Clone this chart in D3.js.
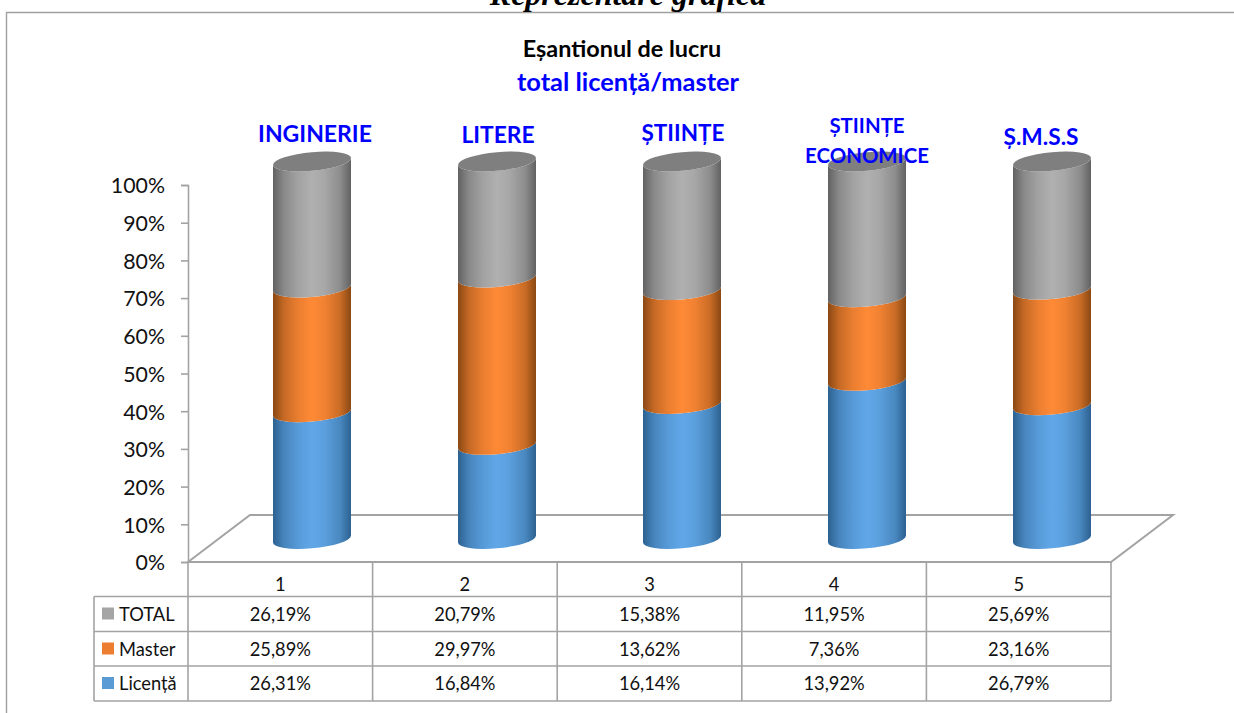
<!DOCTYPE html>
<html><head><meta charset="utf-8">
<script src="https://cdn.jsdelivr.net/npm/d3@7"></script>
<style>html,body{margin:0;padding:0;background:#fff}svg{display:block}text{font-family:Lato,"Noto Sans",sans-serif}</style>
</head><body><svg id="c" width="1234" height="713"></svg>
<script>
const categories=["1","2","3","4","5"];
const licenta=[26.31,16.84,16.14,13.92,26.79];
const master=[25.89,29.97,13.62,7.36,23.16];
const total=[26.19,20.79,15.38,11.95,25.69];
const licentaLabels=["26,31%","16,84%","16,14%","13,92%","26,79%"];
const masterLabels=["25,89%","29,97%","13,62%","7,36%","23,16%"];
const totalLabels=["26,19%","20,79%","15,38%","11,95%","25,69%"];
const seriesNames=["TOTAL","Master","Licență"];
const domains=[["INGINERIE"],["LITERE"],["ȘTIINȚE"],["ȘTIINȚE","ECONOMICE"],["Ș.M.S.S"]];
const yTicks=[0,.1,.2,.3,.4,.5,.6,.7,.8,.9,1];

const svg=d3.select("#c"),defs=svg.append("defs");
const grey="#a3a3a3";
const x=d3.scaleBand().domain(categories).range([188,1111]);
const xc=d3.scaleBand().domain(categories).range([219.5,1144.5]);
const y=d3.scaleLinear().domain([0,1]).range([562,185]);
const yc=d3.scaleLinear().domain([0,1]).range([539,161.5]);
const cols={lic:{dark:"#2c6190",mid:"#61a7e8",flat:"#5b9bd5"},mas:{dark:"#8a4813",mid:"#ff8a36",flat:"#ed7d31"},tot:{dark:"#626262",mid:"#b0b0b0",flat:"#a5a5a5"}};
for(const k in cols){
  const g=defs.append("linearGradient").attr("id","g"+k).attr("x1",0).attr("x2",1).attr("y1",0).attr("y2",0);
  const mix=d3.interpolateRgb(cols[k].dark,cols[k].mid);
  [[0,cols[k].dark],[.14,mix(.5)],[.32,mix(.82)],[.5,cols[k].mid],[.66,mix(.88)],[.86,mix(.55)],[1,cols[k].dark]]
   .forEach(s=>g.append("stop").attr("offset",s[0]).attr("stop-color",s[1]));
}
// frame
svg.append("path").attr("d","M6.5,713V12.5H1234").attr("fill","none").attr("stroke","#a0a0a0").attr("stroke-width",1.4);
svg.append("text").attr("x",628).attr("y",5).attr("text-anchor","middle").style("font-family","'Liberation Serif',serif").style("font-weight","bold").style("font-style","italic").style("font-size","32px").attr("fill","#000").text("Reprezentare grafică");
svg.append("text").attr("x",622).attr("y",57).attr("text-anchor","middle").style("font-weight","bold").style("font-size","23.4px").attr("fill","#000").text("Eșantionul de lucru");
svg.append("text").attr("x",628).attr("y",90.5).attr("text-anchor","middle").style("font-weight","bold").style("font-size","25.4px").attr("fill","#0000ff").text("total licență/master");

// floor
const dx=62,dy=47;
svg.append("path").attr("d",`M${x.range()[0]},${y(0)}L${x.range()[0]+dx},${y(0)-dy}H${x.range()[1]+dx}L${x.range()[1]},${y(0)}Z`).attr("fill","none").attr("stroke",grey).attr("stroke-width",2);
// axis
const ax=svg.append("g").attr("transform","translate(188,0)").call(d3.axisLeft(y).tickValues(yTicks).tickFormat(d3.format(".0%")).tickSize(7).tickPadding(16));
ax.selectAll("path,line").attr("stroke",grey).attr("stroke-width",1.6);
ax.selectAll("text").style("font-size","21.3px").style("font-family","Lato").attr("fill","#111").attr("dy","0.37em");

// cylinders
const rx=39,ry=9.3,skew=-5;
categories.forEach((c,i)=>{
  const sum=licenta[i]+master[i]+total[i];
  const cx=xc(c)+xc.bandwidth()/2;
  const inner=svg.append("g").attr("transform",`translate(${cx},0)`);
  const a=licenta[i]/sum,b=a+master[i]/sum;
  const segs=[["lic",0,a],["mas",a,b],["tot",b,1]];
  const tf=Y=>`translate(0,${Y}) skewY(${skew})`;
  segs.forEach(([k,s,e])=>{
    const h=yc(s)-yc(e);
    inner.append("path").attr("transform",tf(yc(e)))
      .attr("d",`M${-rx},0V${h}A${rx},${ry} 0 0 0 ${rx},${h}V0A${rx},${ry} 0 0 1 ${-rx},0Z`)
      .attr("fill",`url(#g${k})`);
  });
  inner.append("ellipse").attr("transform",tf(yc(1))).attr("rx",rx).attr("ry",ry).attr("fill","#7f7f7f");
});
// top labels
const lx=[315,498,683,867,1041],ly=[[142],[143],[141],[133,163],[145]],ls=[23,22.8,22.5,20.4,22.7];
domains.forEach((d,i)=>d.forEach((t,j)=>svg.append("text").attr("x",lx[i]).attr("y",ly[i][j]).attr("text-anchor","middle").style("font-weight","bold").style("font-size",ls[i]+"px").attr("fill","#0000ff").text(t)));

// data table
const rows=[562,596.5,631.5,666,701];
const t=svg.append("g").attr("fill","none").attr("stroke",grey).attr("stroke-width",1.6);
const xs=categories.map(c=>x(c)).concat([x.range()[1]]);
xs.forEach(v=>t.append("line").attr("x1",v).attr("x2",v).attr("y1",rows[0]).attr("y2",rows[4]));
rows.slice(1).forEach(r=>t.append("line").attr("x1",94).attr("x2",1111).attr("y1",r).attr("y2",r));
t.append("line").attr("x1",94).attr("x2",94).attr("y1",rows[1]).attr("y2",rows[4]);
const cell=(tx,ty,s,anchor="middle")=>svg.append("text").attr("x",tx).attr("y",ty).attr("text-anchor",anchor).style("font-size","18.3px").attr("fill","#111").text(s);
categories.forEach(c=>cell(x(c)+x.bandwidth()/2,591,c));
[totalLabels,masterLabels,licentaLabels].forEach((arr,r)=>{
  const base=rows[r+1]+24;
  arr.forEach((s,i)=>cell(x(categories[i])+x.bandwidth()/2,base,s));
  svg.append("rect").attr("x",102).attr("y",rows[r+1]+11).attr("width",12).attr("height",12).attr("fill",[cols.tot.flat,cols.mas.flat,cols.lic.flat][r]);
  cell(119,base,seriesNames[r],"start");
});
</script></body></html>
